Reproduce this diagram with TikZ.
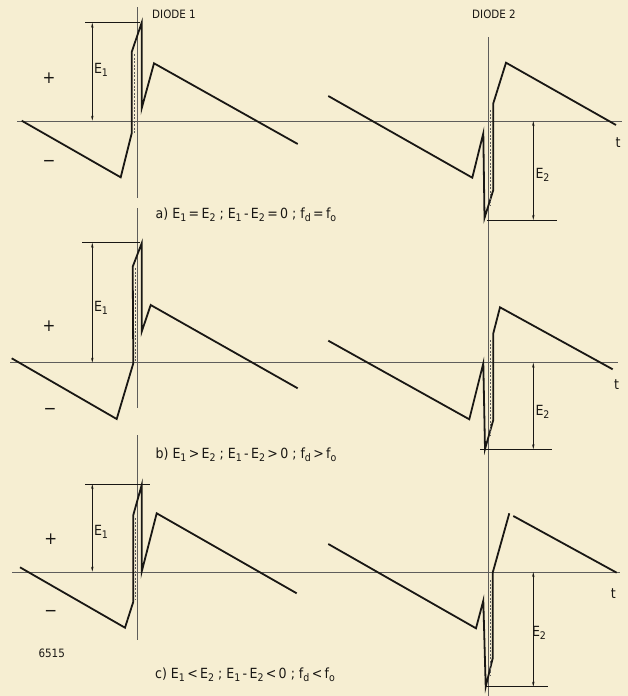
\documentclass[tikz,border=0pt]{standalone}
\usepackage{fontspec}
\setmainfont{DejaVu Sans Condensed}
\usetikzlibrary{arrows.meta}
\definecolor{paper}{RGB}{246,238,210}
\definecolor{ink}{RGB}{25,23,20}
\newcommand\lowidx[1]{\raisebox{-0.4ex}{\fontsize{10.5}{10.5}\selectfont #1}}
\begin{document}
\begin{tikzpicture}[x=1pt,y=-1pt,
  wave/.style={ink, line width=1.8pt, line join=miter},
  axisline/.style={ink!70, line width=0.6pt},
  thinline/.style={ink!70, line width=0.4pt, dash pattern=on 2pt off 1.5pt},
  dimline/.style={ink, line width=0.6pt, {Stealth[length=5pt,width=2.4pt]}-{Stealth[length=5pt,width=2.4pt]}},
  extline/.style={ink, line width=0.7pt},
  lbl/.style={text=ink, font=\fontsize{14}{14}\selectfont, inner sep=0pt},
  captext/.style={text=ink, font=\fontsize{14}{14}\selectfont, inner sep=0pt},
  signtext/.style={text=ink, font=\fontsize{17}{17}\selectfont, inner sep=0pt},
  smalltext/.style={text=ink, font=\fontsize{11.5}{11.5}\selectfont, inner sep=0pt}
]
\fill[paper] (0,0) rectangle (628,696);
\useasboundingbox (0,0) rectangle (628,696);

% axes
\draw[axisline] (17,121) -- (622,121);
\draw[axisline] (10,362.7) -- (618,362.7);
\draw[axisline] (12,572) -- (620,572);
\draw[axisline] (137,7) -- (137,198);
\draw[axisline] (137,208) -- (137,408);
\draw[axisline] (137,435) -- (137,640);
\draw[axisline] (488,37) -- (488,696);

% ---- panel a ----
\draw[wave] (21.7,120.7) -- (120.7,177.3) -- (131.7,133.3) -- (131.7,52) -- (141.7,22.7) -- (141.7,108.3) -- (154,63.3) -- (297.7,144);
\draw[thinline] (134,54) -- (134,133);
\draw[extline] (85,22.7) -- (140,22.7);
\coordinate (a1t) at (92.3,22.7);
\coordinate (a1b) at (92.3,120.7);
\draw[dimline] (a1t) -- (a1b);
\node[lbl] (aE1) at (101,70) {E\lowidx{1}};
\node[signtext] (apl) at (49,78) {+};
\node[signtext] (amn) at (49,163) {−};

\draw[wave] (328.3,96) -- (472.3,177.7) -- (483.3,133.3) -- (484.5,218) -- (493.3,190) -- (493.3,103.3) -- (506,62.7) -- (616,125);
\draw[thinline] (490.5,110) -- (490.5,205);
\coordinate (a2t) at (533.3,121);
\coordinate (a2b) at (533.3,220);
\draw[dimline] (a2t) -- (a2b);
\draw[extline] (486.7,220) -- (556.7,220);
\node[lbl] (aE2) at (542.5,175) {E\lowidx{2}};
\node[captext] (at) at (618,143) {t};

\node[smalltext] (d1) at (174,14) {DIODE 1};
\node[smalltext] (d2) at (494,14) {DIODE 2};
\node[captext] (alab) at (246,215) {a) E\lowidx{1}\,=\,E\lowidx{2} ; E\lowidx{1}\,-\,E\lowidx{2}\,=\,0 ; f\lowidx{d}\,=\,f\lowidx{o}};

% ---- panel b ----
\draw[wave] (11.7,358.3) -- (116.7,419) -- (133.3,363.3) -- (132.7,266.7) -- (141.7,243.3) -- (141.7,331.7) -- (150.7,305) -- (297.7,388.3);
\draw[thinline] (134.8,268) -- (134.8,362);
\draw[extline] (82,242.7) -- (140,242.7);
\coordinate (b1t) at (92.3,242.7);
\coordinate (b1b) at (92.3,362.7);
\draw[dimline] (b1t) -- (b1b);
\node[lbl] (bE1) at (101,308) {E\lowidx{1}};
\node[signtext] (bpl) at (49,326) {+};
\node[signtext] (bmn) at (50,411.7) {−};

\draw[wave] (328.3,340.7) -- (469.3,419.3) -- (483.3,363.3) -- (485,449) -- (493.3,420) -- (493.3,333.3) -- (500,307.3) -- (612.7,369.3);
\draw[thinline] (490.5,340) -- (490.5,435);
\coordinate (b2t) at (533.3,362.7);
\coordinate (b2b) at (533.3,449.3);
\draw[dimline] (b2t) -- (b2b);
\draw[extline] (480,449.3) -- (551.7,449.3);
\node[lbl] (bE2) at (542.5,411.7) {E\lowidx{2}};
\node[captext] (bt) at (616.7,385) {t};
\node[captext] (blab) at (246,455) {b) E\lowidx{1}\,>\,E\lowidx{2} ; E\lowidx{1}\,-\,E\lowidx{2}\,>\,0 ; f\lowidx{d}\,>\,f\lowidx{o}};

% ---- panel c ----
\draw[wave] (20,567.3) -- (125,627.7) -- (133.3,601.7) -- (133.3,515) -- (141.7,485) -- (141.7,571.7) -- (156.7,513.3) -- (296.7,593.3);
\draw[thinline] (135.5,518) -- (135.5,600);
\draw[extline] (85,484) -- (150,484);
\coordinate (c1t) at (92.3,484);
\coordinate (c1b) at (92.3,571.7);
\draw[dimline] (c1t) -- (c1b);
\node[lbl] (cE1) at (101,531.7) {E\lowidx{1}};
\node[signtext] (cpl) at (50.7,539.3) {+};
\node[signtext] (cmn) at (50.7,613.3) {−};
\node[smalltext] (fig) at (51.7,653.3) {6515};

\draw[wave] (328.3,544) -- (476,628.3) -- (483.3,600.7) -- (485.7,686.7) -- (492.7,658.3) -- (492.7,572.7) -- (509.3,513.3);
\draw[wave] (513.3,516) -- (616.7,572.7);
\draw[thinline] (490,580) -- (490,675);
\coordinate (c2t) at (533.3,572);
\coordinate (c2b) at (533.3,686.7);
\draw[dimline] (c2t) -- (c2b);
\draw[extline] (485,686.7) -- (548.3,686.7);
\node[lbl] (cE2) at (539,633.3) {E\lowidx{2}};
\node[captext] (ct) at (613.3,593.3) {t};
\node[captext] (clab) at (245,675) {c) E\lowidx{1}\,<\,E\lowidx{2} ; E\lowidx{1}\,-\,E\lowidx{2}\,<\,0 ; f\lowidx{d}\,<\,f\lowidx{o}};
\end{tikzpicture}
\end{document}
